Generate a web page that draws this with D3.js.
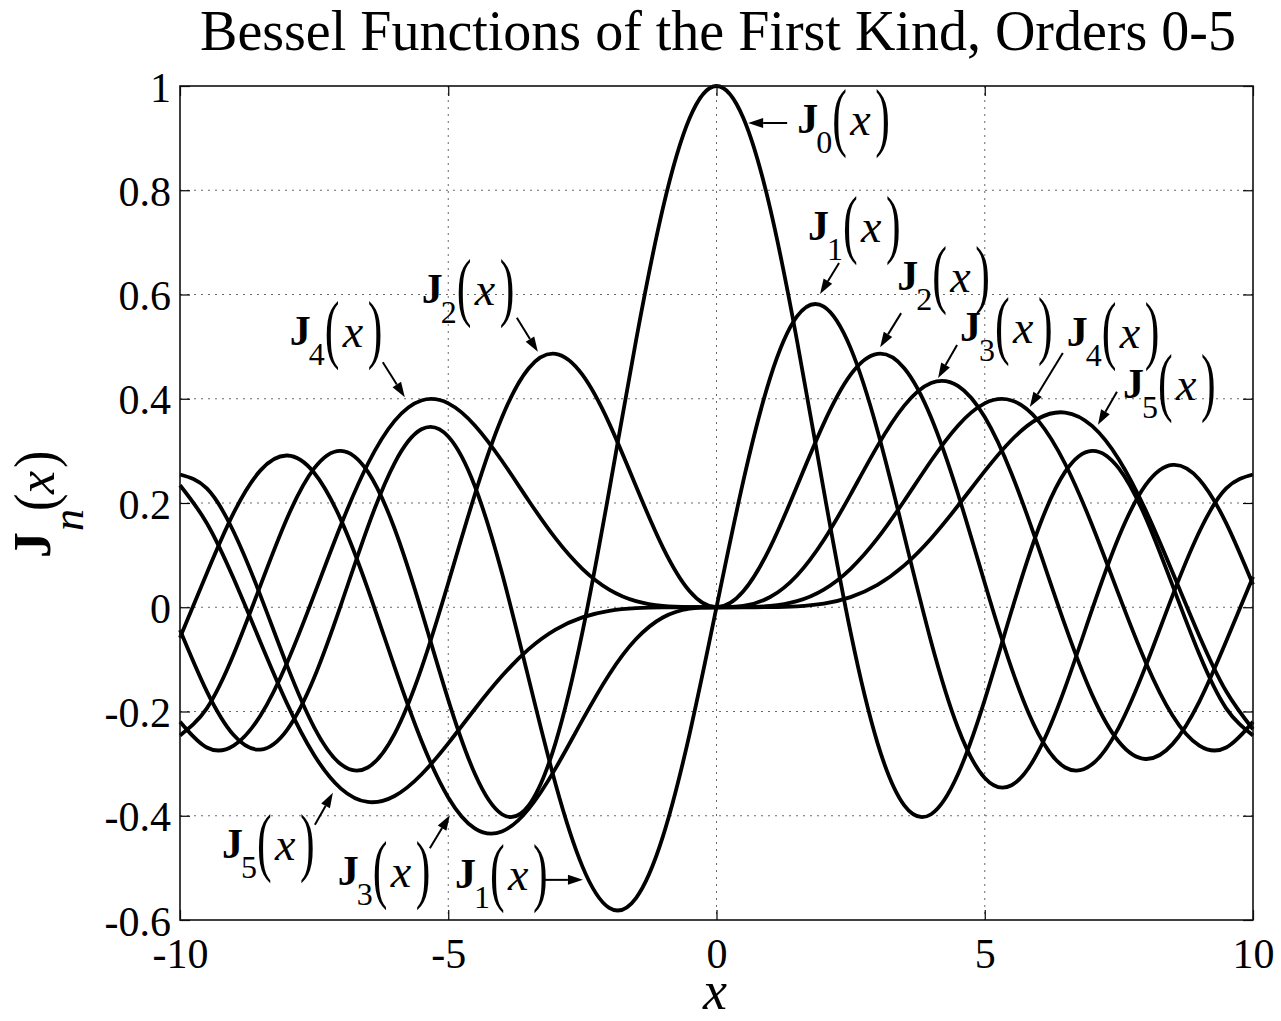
<!DOCTYPE html>
<html>
<head>
<meta charset="utf-8">
<script src="https://cdn.jsdelivr.net/npm/d3@7/dist/d3.min.js"></script>
<style>
  html, body { margin: 0; padding: 0; background: #fff; }
  svg { display: block; }
  text { font-family: "Liberation Serif", "Times New Roman", serif; fill: #000; }
</style>
</head>
<body>
<svg id="chart" width="1281" height="1021"></svg>
<script>
// Sample points along x
const xValues = [-10, -9.5, -9, -8.5, -8, -7.5, -7, -6.5, -6, -5.5, -5, -4.5, -4, -3.5, -3, -2.5, -2, -1.5, -1, -0.5,
  0, 0.5, 1, 1.5, 2, 2.5, 3, 3.5, 4, 4.5, 5, 5.5, 6, 6.5, 7, 7.5, 8, 8.5, 9, 9.5, 10];

// J_n(x) values at the sample points, orders 0 to 5
const j0 = [-0.2459, -0.1939, -0.0903, 0.0419, 0.1717, 0.2663, 0.3001, 0.2601, 0.1506, -0.0068, -0.1776, -0.3205, -0.3971, -0.3801, -0.2601, -0.0484, 0.2239, 0.5118, 0.7652, 0.9385,
  1.0000, 0.9385, 0.7652, 0.5118, 0.2239, -0.0484, -0.2601, -0.3801, -0.3971, -0.3205, -0.1776, -0.0068, 0.1506, 0.2601, 0.3001, 0.2663, 0.1717, 0.0419, -0.0903, -0.1939, -0.2459];
const j1 = [-0.0435, -0.1613, -0.2453, -0.2731, -0.2346, -0.1352, 0.0047, 0.1538, 0.2767, 0.3414, 0.3276, 0.2311, 0.0660, -0.1374, -0.3391, -0.4971, -0.5767, -0.5579, -0.4401, -0.2423,
  0.0000, 0.2423, 0.4401, 0.5579, 0.5767, 0.4971, 0.3391, 0.1374, -0.0660, -0.2311, -0.3276, -0.3414, -0.2767, -0.1538, -0.0047, 0.1352, 0.2346, 0.2731, 0.2453, 0.1613, 0.0435];
const j2 = [0.2546, 0.2279, 0.1448, 0.0223, -0.1130, -0.2303, -0.3014, -0.3074, -0.2429, -0.1173, 0.0466, 0.2178, 0.3641, 0.4586, 0.4861, 0.4461, 0.3528, 0.2321, 0.1149, 0.0306,
  0.0000, 0.0306, 0.1149, 0.2321, 0.3528, 0.4461, 0.4861, 0.4586, 0.3641, 0.2178, 0.0466, -0.1173, -0.2429, -0.3074, -0.3014, -0.2303, -0.1130, 0.0223, 0.1448, 0.2279, 0.2546];
const j3 = [-0.0584, 0.0653, 0.1809, 0.2626, 0.2911, 0.2581, 0.1676, 0.0353, -0.1148, -0.2561, -0.3648, -0.4247, -0.4302, -0.3868, -0.3091, -0.2166, -0.1289, -0.0610, -0.0196, -0.0026,
  0.0000, 0.0026, 0.0196, 0.0610, 0.1289, 0.2166, 0.3091, 0.3868, 0.4302, 0.4247, 0.3648, 0.2561, 0.1148, -0.0353, -0.1676, -0.2581, -0.2911, -0.2626, -0.1809, -0.0653, 0.0584];
const j4 = [-0.2196, -0.2691, -0.2655, -0.2077, -0.1054, 0.0238, 0.1578, 0.2748, 0.3576, 0.3967, 0.3912, 0.3484, 0.2811, 0.2044, 0.1320, 0.0738, 0.0340, 0.0118, 0.0025, 0.0002,
  0.0000, 0.0002, 0.0025, 0.0118, 0.0340, 0.0738, 0.1320, 0.2044, 0.2811, 0.3484, 0.3912, 0.3967, 0.3576, 0.2748, 0.1578, 0.0238, -0.1054, -0.2077, -0.2655, -0.2691, -0.2196];
const j5 = [0.2341, 0.1613, 0.0550, -0.0671, -0.1858, -0.2835, -0.3479, -0.3736, -0.3621, -0.3209, -0.2611, -0.1947, -0.1321, -0.0804, -0.0430, -0.0195, -0.0070, -0.0018, -0.0002, 0.0000,
  0.0000, 0.0000, 0.0002, 0.0018, 0.0070, 0.0195, 0.0430, 0.0804, 0.1321, 0.1947, 0.2611, 0.3209, 0.3621, 0.3736, 0.3479, 0.2835, 0.1858, 0.0671, -0.0550, -0.1613, -0.2341];

const seriesOrders = [0, 1, 2, 3, 4, 5];
const seriesValues = [j0, j1, j2, j3, j4, j5];

// Axis ticks
const xTicks = [-10, -5, 0, 5, 10];
const xTickLabels = ["-10", "-5", "0", "5", "10"];
const yTicks = [-0.6, -0.4, -0.2, 0, 0.2, 0.4, 0.6, 0.8, 1];
const yTickLabels = ["-0.6", "-0.4", "-0.2", "0", "0.2", "0.4", "0.6", "0.8", "1"];

// Curve labels: order, arrow tip (data units), tail and label offsets (px from tip)
const annotations = [
  { n: 0, tip: [0.59, 0.929],  tail: [39, 0],    label: [49, 10] },
  { n: 1, tip: [1.93, 0.601],  tail: [19, -31],  label: [-12, -54] },
  { n: 2, tip: [3.05, 0.499],  tail: [21, -34],  label: [17, -57] },
  { n: 3, tip: [4.13, 0.440],  tail: [19, -33],  label: [22, -37] },
  { n: 4, tip: [5.84, 0.384],  tail: [33, -54],  label: [37, -61] },
  { n: 5, tip: [7.11, 0.350],  tail: [19, -33],  label: [25, -27] },
  { n: 4, tip: [-5.81, 0.403], tail: [-22, -35], label: [-115, -52] },
  { n: 2, tip: [-3.33, 0.490], tail: [-21, -34], label: [-116, -49] },
  { n: 5, tip: [-7.15, -0.356], tail: [-18, 32], label: [-111, 65] },
  { n: 3, tip: [-4.97, -0.399], tail: [-20, 33], label: [-112, 70] },
  { n: 1, tip: [-2.49, -0.523], tail: [-38, 0],  label: [-128, 8] }
];

const titleText = "Bessel Functions of the First Kind, Orders 0-5";

// ---- layout ----
const plot = { left: 180, right: 1253, top: 86, bottom: 920 };
const svg = d3.select("#chart");
svg.append("rect").attr("width", 1281).attr("height", 1021).attr("fill", "#fff");

const x = d3.scaleLinear().domain([-10, 10]).range([plot.left, plot.right]);
const y = d3.scaleLinear().domain([-0.6, 1]).range([plot.bottom, plot.top]);

// dotted grid
const grid = svg.append("g").attr("stroke", "#6a6a6a").attr("stroke-width", 1).attr("stroke-dasharray", "2,5");
grid.selectAll("line.gx").data(xTicks.filter(t => t > -10 && t < 10)).join("line")
  .attr("x1", d => x(d)).attr("x2", d => x(d)).attr("y1", plot.top).attr("y2", plot.bottom);
grid.selectAll("line.gy").data(yTicks.filter(t => t > -0.6 && t < 1)).join("line")
  .attr("y1", d => y(d)).attr("y2", d => y(d)).attr("x1", plot.left).attr("x2", plot.right);

// axes with inward ticks on all sides
const fontTick = 42;
const axL = svg.append("g").attr("transform", `translate(${plot.left},0)`)
  .call(d3.axisLeft(y).tickValues(yTicks).tickFormat((d, i) => yTickLabels[i]).tickSizeInner(-10).tickSizeOuter(0).tickPadding(9));
const axR = svg.append("g").attr("transform", `translate(${plot.right},0)`)
  .call(d3.axisRight(y).tickValues(yTicks).tickFormat("").tickSizeInner(-10).tickSizeOuter(0));
const axB = svg.append("g").attr("transform", `translate(0,${plot.bottom})`)
  .call(d3.axisBottom(x).tickValues(xTicks).tickFormat((d, i) => xTickLabels[i]).tickSizeInner(-10).tickSizeOuter(0).tickPadding(18));
const axT = svg.append("g").attr("transform", `translate(0,${plot.top})`)
  .call(d3.axisTop(x).tickValues(xTicks).tickFormat("").tickSizeInner(-10).tickSizeOuter(0));
[axL, axR, axB, axT].forEach(a => {
  a.select(".domain").remove();
  a.selectAll(".tick line").attr("stroke", "#000").attr("stroke-width", 1.2);
  a.selectAll("text").attr("font-size", fontTick).attr("font-family", "'Liberation Serif', serif").attr("fill", "#000");
});
axL.selectAll(".tick text").attr("dy", "0.36em");

// curves
const line = d3.line().x(d => x(d[0])).y(d => y(d[1])).curve(d3.curveNatural);
svg.append("g").selectAll("path").data(seriesValues).join("path")
  .attr("d", vals => line(xValues.map((xv, i) => [xv, vals[i]])))
  .attr("fill", "none").attr("stroke", "#000").attr("stroke-width", 3.8)
  .attr("stroke-linejoin", "round");

// plot box
svg.append("rect").attr("x", plot.left).attr("y", plot.top)
  .attr("width", plot.right - plot.left).attr("height", plot.bottom - plot.top)
  .attr("fill", "none").attr("stroke", "#111").attr("stroke-width", 1.6);

// J_n(x) label builder
function texLabel(g, sub, s) {
  g.append("text").attr("x", 0).attr("y", 0).attr("font-size", s.jSize).attr("font-weight", "bold").text("J");
  g.append("text").attr("x", s.subX).attr("y", s.subY).attr("font-size", s.subSize)
    .attr("font-style", s.subItalic ? "italic" : "normal").text(sub);
  const paren = (px, ch) => g.append("g").attr("transform", `translate(${px},${s.parCy}) scale(1,${s.parScale})`)
    .append("text").attr("y", 0.2495 * s.parSize).attr("font-size", s.parSize).text(ch);
  paren(s.lpX, "(");
  g.append("text").attr("x", s.xX).attr("y", s.xY).attr("font-size", s.xSize).attr("font-style", "italic").text("x");
  paren(s.rpX, ")");
}

const annStyle = { jSize: 42, subSize: 32, subX: 19, subY: 20, subItalic: false, parSize: 44, parScale: 1.72, parCy: -10,
  lpX: 35, xX: 53, xY: 2, xSize: 46, rpX: 78 };
const yLabStyle = { jSize: 52, subSize: 44, subX: 27, subY: 33, subItalic: true, parSize: 52, parScale: 1.13, parCy: -10,
  lpX: 47, xX: 64, xY: 4, xSize: 52, rpX: 90 };

// arrows + labels
const annG = svg.append("g");
annotations.forEach(a => {
  const tx = x(a.tip[0]), ty = y(a.tip[1]);
  const sx = tx + a.tail[0], sy = ty + a.tail[1];
  const ang = Math.atan2(ty - sy, tx - sx);
  const hl = 15, hw = 5;
  const bx = tx - hl * Math.cos(ang), by = ty - hl * Math.sin(ang);
  annG.append("line").attr("x1", sx).attr("y1", sy).attr("x2", bx).attr("y2", by)
    .attr("stroke", "#000").attr("stroke-width", 2);
  const px = -Math.sin(ang) * hw, py = Math.cos(ang) * hw;
  annG.append("path").attr("d", `M${tx},${ty}L${bx + px},${by + py}L${bx - px},${by - py}Z`).attr("fill", "#000");
  const lg = annG.append("g").attr("transform", `translate(${tx + a.label[0]},${ty + a.label[1]})`);
  texLabel(lg, String(a.n), annStyle);
});

// title
svg.append("text").attr("x", 718).attr("y", 50).attr("text-anchor", "middle")
  .attr("font-size", 56).text(titleText);

// x label
svg.append("text").attr("x", 715).attr("y", 1009).attr("text-anchor", "middle")
  .attr("font-size", 54).attr("font-style", "italic").text("x");

// y label
const yl = svg.append("g").attr("transform", "translate(50,558) rotate(-90)");
texLabel(yl, "n", yLabStyle);
</script>
</body>
</html>
